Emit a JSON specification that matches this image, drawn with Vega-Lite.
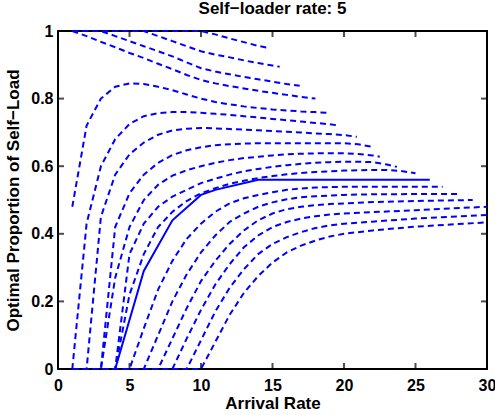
{
  "$schema": "https://vega.github.io/schema/vega-lite/v6.json",
  "width": 429,
  "height": 338,
  "autosize": "none",
  "padding": {"left": 58, "top": 31, "right": 8, "bottom": 46},
  "title": {"text": "Self−loader rate: 5", "font": "Liberation Sans", "fontSize": 17, "fontWeight": "bold", "color": "black", "frame": "group", "offset": 5},
  "config": {
    "font": "Liberation Sans",
    "view": {"stroke": "black", "strokeWidth": 2},
    "axis": {"grid": false, "labelColor": "black", "labelFont": "Liberation Sans", "labelFontWeight": "bold", "labelFontSize": 16, "titleFont": "Liberation Sans", "titleFontWeight": "bold", "titleFontSize": 17, "titleColor": "black"}
  },
  "datasets": {
    "curves": [
    {"c":1,"x":1,"y":1},{"c":1,"x":10,"y":1},{"c":1,"x":11,"y":0.99},{"c":1,"x":12,"y":0.978},{"c":1,"x":13,"y":0.967},{"c":1,"x":14,"y":0.956},{"c":1,"x":14.7,"y":0.95},
    {"c":2,"x":1,"y":1},{"c":2,"x":6,"y":1},{"c":2,"x":7,"y":0.985},{"c":2,"x":8,"y":0.97},{"c":2,"x":9,"y":0.955},{"c":2,"x":10,"y":0.94},{"c":2,"x":11,"y":0.93},{"c":2,"x":12,"y":0.922},{"c":2,"x":13,"y":0.913},{"c":2,"x":14,"y":0.905},{"c":2,"x":15,"y":0.898},{"c":2,"x":15.5,"y":0.894},
    {"c":3,"x":1,"y":1},{"c":3,"x":3,"y":1},{"c":3,"x":4,"y":0.985},{"c":3,"x":5,"y":0.97},{"c":3,"x":6,"y":0.955},{"c":3,"x":7,"y":0.94},{"c":3,"x":8,"y":0.925},{"c":3,"x":9,"y":0.907},{"c":3,"x":10,"y":0.89},{"c":3,"x":11,"y":0.88},{"c":3,"x":12,"y":0.872},{"c":3,"x":13,"y":0.864},{"c":3,"x":14,"y":0.857},{"c":3,"x":15,"y":0.85},{"c":3,"x":16,"y":0.843},{"c":3,"x":16.9,"y":0.838},
    {"c":4,"x":1,"y":1},{"c":4,"x":2,"y":0.985},{"c":4,"x":3,"y":0.968},{"c":4,"x":4,"y":0.952},{"c":4,"x":5,"y":0.935},{"c":4,"x":6,"y":0.92},{"c":4,"x":7,"y":0.903},{"c":4,"x":8,"y":0.887},{"c":4,"x":9,"y":0.87},{"c":4,"x":10,"y":0.855},{"c":4,"x":11,"y":0.845},{"c":4,"x":12,"y":0.837},{"c":4,"x":13,"y":0.83},{"c":4,"x":14,"y":0.823},{"c":4,"x":15,"y":0.817},{"c":4,"x":16,"y":0.811},{"c":4,"x":17,"y":0.805},{"c":4,"x":18,"y":0.8},
    {"c":5,"x":1,"y":0.48},{"c":5,"x":2,"y":0.72},{"c":5,"x":3,"y":0.8},{"c":5,"x":4,"y":0.835},{"c":5,"x":5,"y":0.845},{"c":5,"x":6,"y":0.843},{"c":5,"x":7,"y":0.835},{"c":5,"x":8,"y":0.825},{"c":5,"x":9,"y":0.812},{"c":5,"x":10,"y":0.8},{"c":5,"x":11,"y":0.79},{"c":5,"x":12,"y":0.783},{"c":5,"x":13,"y":0.777},{"c":5,"x":14,"y":0.772},{"c":5,"x":15,"y":0.768},{"c":5,"x":16,"y":0.765},{"c":5,"x":17,"y":0.762},{"c":5,"x":18,"y":0.76},{"c":5,"x":18.9,"y":0.758},
    {"c":6,"x":1,"y":0},{"c":6,"x":2,"y":0.43},{"c":6,"x":3,"y":0.6},{"c":6,"x":4,"y":0.68},{"c":6,"x":5,"y":0.725},{"c":6,"x":6,"y":0.748},{"c":6,"x":7,"y":0.757},{"c":6,"x":8,"y":0.76},{"c":6,"x":9,"y":0.76},{"c":6,"x":10,"y":0.758},{"c":6,"x":11,"y":0.755},{"c":6,"x":12,"y":0.752},{"c":6,"x":13,"y":0.748},{"c":6,"x":14,"y":0.744},{"c":6,"x":15,"y":0.74},{"c":6,"x":16,"y":0.736},{"c":6,"x":17,"y":0.732},{"c":6,"x":18,"y":0.728},{"c":6,"x":19,"y":0.724},{"c":6,"x":19.7,"y":0.72},
    {"c":7,"x":1,"y":0},{"c":7,"x":2,"y":0},{"c":7,"x":3,"y":0.45},{"c":7,"x":4,"y":0.575},{"c":7,"x":5,"y":0.635},{"c":7,"x":6,"y":0.67},{"c":7,"x":7,"y":0.693},{"c":7,"x":8,"y":0.706},{"c":7,"x":9,"y":0.711},{"c":7,"x":10,"y":0.713},{"c":7,"x":11,"y":0.712},{"c":7,"x":12,"y":0.71},{"c":7,"x":13,"y":0.708},{"c":7,"x":14,"y":0.706},{"c":7,"x":15,"y":0.704},{"c":7,"x":16,"y":0.702},{"c":7,"x":17,"y":0.7},{"c":7,"x":18,"y":0.697},{"c":7,"x":19,"y":0.695},{"c":7,"x":20,"y":0.692},{"c":7,"x":20.9,"y":0.687},
    {"c":8,"x":1,"y":0},{"c":8,"x":3,"y":0},{"c":8,"x":4,"y":0.42},{"c":8,"x":5,"y":0.52},{"c":8,"x":6,"y":0.575},{"c":8,"x":7,"y":0.61},{"c":8,"x":8,"y":0.633},{"c":8,"x":9,"y":0.647},{"c":8,"x":10,"y":0.656},{"c":8,"x":11,"y":0.662},{"c":8,"x":12,"y":0.665},{"c":8,"x":13,"y":0.667},{"c":8,"x":14,"y":0.668},{"c":8,"x":20,"y":0.668},{"c":8,"x":21,"y":0.665},{"c":8,"x":21.9,"y":0.658},
    {"c":9,"x":1,"y":0},{"c":9,"x":3,"y":0},{"c":9,"x":4,"y":0.27},{"c":9,"x":5,"y":0.42},{"c":9,"x":6,"y":0.5},{"c":9,"x":7,"y":0.545},{"c":9,"x":8,"y":0.572},{"c":9,"x":9,"y":0.588},{"c":9,"x":10,"y":0.6},{"c":9,"x":11,"y":0.61},{"c":9,"x":12,"y":0.618},{"c":9,"x":13,"y":0.624},{"c":9,"x":14,"y":0.628},{"c":9,"x":15,"y":0.632},{"c":9,"x":16,"y":0.635},{"c":9,"x":17,"y":0.637},{"c":9,"x":18,"y":0.638},{"c":9,"x":20,"y":0.638},{"c":9,"x":21,"y":0.636},{"c":9,"x":22,"y":0.632},{"c":9,"x":22.5,"y":0.628},
    {"c":10,"x":1,"y":0},{"c":10,"x":4,"y":0},{"c":10,"x":5,"y":0.34},{"c":10,"x":6,"y":0.43},{"c":10,"x":7,"y":0.48},{"c":10,"x":8,"y":0.51},{"c":10,"x":9,"y":0.53},{"c":10,"x":10,"y":0.55},{"c":10,"x":11,"y":0.563},{"c":10,"x":12,"y":0.575},{"c":10,"x":13,"y":0.585},{"c":10,"x":14,"y":0.592},{"c":10,"x":15,"y":0.598},{"c":10,"x":16,"y":0.603},{"c":10,"x":17,"y":0.607},{"c":10,"x":18,"y":0.61},{"c":10,"x":19,"y":0.612},{"c":10,"x":20,"y":0.613},{"c":10,"x":21,"y":0.613},{"c":10,"x":22,"y":0.612},{"c":10,"x":23,"y":0.605},{"c":10,"x":23.7,"y":0.598},
    {"c":11,"x":1,"y":0},{"c":11,"x":4,"y":0},{"c":11,"x":5,"y":0.22},{"c":11,"x":6,"y":0.34},{"c":11,"x":7,"y":0.42},{"c":11,"x":8,"y":0.465},{"c":11,"x":9,"y":0.497},{"c":11,"x":10,"y":0.52},{"c":11,"x":11,"y":0.535},{"c":11,"x":12,"y":0.548},{"c":11,"x":13,"y":0.557},{"c":11,"x":14,"y":0.565},{"c":11,"x":15,"y":0.571},{"c":11,"x":16,"y":0.576},{"c":11,"x":17,"y":0.58},{"c":11,"x":18,"y":0.583},{"c":11,"x":19,"y":0.585},{"c":11,"x":20,"y":0.587},{"c":11,"x":21,"y":0.588},{"c":11,"x":22,"y":0.589},{"c":11,"x":23,"y":0.589},{"c":11,"x":24,"y":0.586},{"c":11,"x":25,"y":0.579},
    {"c":12,"x":4,"y":0},{"c":12,"x":6,"y":0.29},{"c":12,"x":8,"y":0.44},{"c":12,"x":10,"y":0.515},{"c":12,"x":11,"y":0.53},{"c":12,"x":14,"y":0.56},{"c":12,"x":26,"y":0.56},
    {"c":13,"x":1,"y":0},{"c":13,"x":5,"y":0},{"c":13,"x":6,"y":0.12},{"c":13,"x":7,"y":0.235},{"c":13,"x":8,"y":0.32},{"c":13,"x":9,"y":0.385},{"c":13,"x":10,"y":0.43},{"c":13,"x":11,"y":0.465},{"c":13,"x":12,"y":0.49},{"c":13,"x":13,"y":0.505},{"c":13,"x":14,"y":0.515},{"c":13,"x":15,"y":0.523},{"c":13,"x":16,"y":0.53},{"c":13,"x":17,"y":0.534},{"c":13,"x":18,"y":0.537},{"c":13,"x":19,"y":0.538},{"c":13,"x":20,"y":0.539},{"c":13,"x":26.9,"y":0.539},
    {"c":14,"x":1,"y":0},{"c":14,"x":6,"y":0},{"c":14,"x":7,"y":0.1},{"c":14,"x":8,"y":0.2},{"c":14,"x":9,"y":0.28},{"c":14,"x":10,"y":0.345},{"c":14,"x":11,"y":0.395},{"c":14,"x":12,"y":0.435},{"c":14,"x":13,"y":0.46},{"c":14,"x":14,"y":0.48},{"c":14,"x":15,"y":0.493},{"c":14,"x":16,"y":0.502},{"c":14,"x":17,"y":0.508},{"c":14,"x":18,"y":0.511},{"c":14,"x":19,"y":0.513},{"c":14,"x":20,"y":0.515},{"c":14,"x":22,"y":0.517},{"c":14,"x":28,"y":0.518},
    {"c":15,"x":1,"y":0},{"c":15,"x":7,"y":0},{"c":15,"x":8,"y":0.09},{"c":15,"x":9,"y":0.18},{"c":15,"x":10,"y":0.26},{"c":15,"x":11,"y":0.32},{"c":15,"x":12,"y":0.37},{"c":15,"x":13,"y":0.41},{"c":15,"x":14,"y":0.44},{"c":15,"x":15,"y":0.46},{"c":15,"x":16,"y":0.473},{"c":15,"x":17,"y":0.48},{"c":15,"x":18,"y":0.485},{"c":15,"x":19,"y":0.488},{"c":15,"x":20,"y":0.49},{"c":15,"x":22,"y":0.494},{"c":15,"x":25,"y":0.497},{"c":15,"x":29,"y":0.5},
    {"c":16,"x":1,"y":0},{"c":16,"x":8,"y":0},{"c":16,"x":9,"y":0.09},{"c":16,"x":10,"y":0.175},{"c":16,"x":11,"y":0.25},{"c":16,"x":12,"y":0.31},{"c":16,"x":13,"y":0.36},{"c":16,"x":14,"y":0.395},{"c":16,"x":15,"y":0.42},{"c":16,"x":16,"y":0.435},{"c":16,"x":17,"y":0.445},{"c":16,"x":18,"y":0.452},{"c":16,"x":19,"y":0.457},{"c":16,"x":20,"y":0.46},{"c":16,"x":22,"y":0.464},{"c":16,"x":25,"y":0.47},{"c":16,"x":30,"y":0.48},
    {"c":17,"x":1,"y":0},{"c":17,"x":9,"y":0},{"c":17,"x":10,"y":0.085},{"c":17,"x":11,"y":0.17},{"c":17,"x":12,"y":0.24},{"c":17,"x":13,"y":0.295},{"c":17,"x":14,"y":0.34},{"c":17,"x":15,"y":0.37},{"c":17,"x":16,"y":0.39},{"c":17,"x":17,"y":0.405},{"c":17,"x":18,"y":0.417},{"c":17,"x":19,"y":0.425},{"c":17,"x":20,"y":0.43},{"c":17,"x":22,"y":0.436},{"c":17,"x":25,"y":0.445},{"c":17,"x":30,"y":0.456},
    {"c":18,"x":1,"y":0},{"c":18,"x":10,"y":0},{"c":18,"x":11,"y":0.08},{"c":18,"x":12,"y":0.16},{"c":18,"x":13,"y":0.225},{"c":18,"x":14,"y":0.275},{"c":18,"x":15,"y":0.315},{"c":18,"x":16,"y":0.345},{"c":18,"x":17,"y":0.365},{"c":18,"x":18,"y":0.38},{"c":18,"x":19,"y":0.392},{"c":18,"x":20,"y":0.4},{"c":18,"x":22,"y":0.41},{"c":18,"x":25,"y":0.421},{"c":18,"x":30,"y":0.434}
    ],
    "xticks": [{"v":5},{"v":10},{"v":15},{"v":20},{"v":25}],
    "yticks": [{"v":0.2},{"v":0.4},{"v":0.6},{"v":0.8}]
  },
  "layer": [
    {
      "data": {"name": "xticks"},
      "mark": {"type": "tick", "orient": "vertical", "color": "black", "size": 6, "thickness": 2, "yOffset": -3},
      "encoding": {"x": {"field": "v", "type": "quantitative"}, "y": {"datum": 0, "type": "quantitative"}}
    },
    {
      "data": {"name": "xticks"},
      "mark": {"type": "tick", "orient": "vertical", "color": "black", "size": 6, "thickness": 2, "yOffset": 3},
      "encoding": {"x": {"field": "v", "type": "quantitative"}, "y": {"datum": 1, "type": "quantitative"}}
    },
    {
      "data": {"name": "yticks"},
      "mark": {"type": "tick", "orient": "horizontal", "color": "black", "size": 6, "thickness": 2, "xOffset": 3},
      "encoding": {"y": {"field": "v", "type": "quantitative"}, "x": {"datum": 0, "type": "quantitative"}}
    },
    {
      "data": {"name": "yticks"},
      "mark": {"type": "tick", "orient": "horizontal", "color": "black", "size": 6, "thickness": 2, "xOffset": -3},
      "encoding": {"y": {"field": "v", "type": "quantitative"}, "x": {"datum": 30, "type": "quantitative"}}
    },
    {
      "data": {"name": "curves"},
      "transform": [{"filter": "datum.c != 12"}],
      "mark": {"type": "line", "color": "#0000ff", "strokeWidth": 2, "strokeDash": [6, 4]},
      "encoding": {
        "x": {"field": "x", "type": "quantitative", "scale": {"domain": [0, 30], "nice": false, "zero": false},
              "axis": {"values": [0, 5, 10, 15, 20, 25, 30], "ticks": false, "tickSize": 0, "domain": false, "labelPadding": 8, "title": "Arrival Rate", "titlePadding": 2, "labelFlush": false}},
        "y": {"field": "y", "type": "quantitative", "scale": {"domain": [0, 1], "nice": false},
              "axis": {"values": [0, 0.2, 0.4, 0.6, 0.8, 1], "format": "~g", "ticks": false, "tickSize": 0, "domain": false, "labelPadding": 5, "title": "Optimal Proportion of Self−Load", "titlePadding": 8}},
        "detail": {"field": "c", "type": "nominal"}
      }
    },
    {
      "data": {"name": "curves"},
      "transform": [{"filter": "datum.c == 12"}],
      "mark": {"type": "line", "color": "#0000ff", "strokeWidth": 2},
      "encoding": {
        "x": {"field": "x", "type": "quantitative"},
        "y": {"field": "y", "type": "quantitative"},
        "detail": {"field": "c", "type": "nominal"}
      }
    }
  ]
}
